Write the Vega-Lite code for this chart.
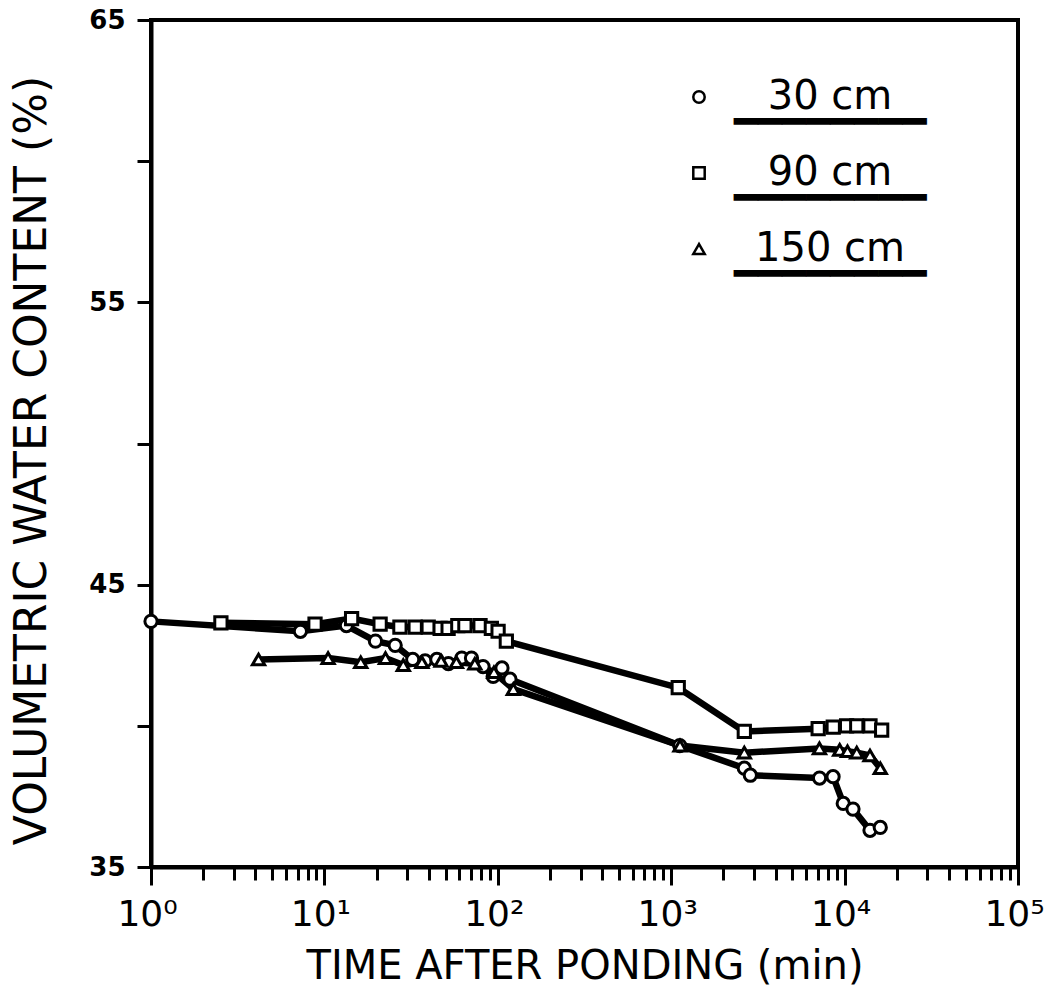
{
  "$schema": "https://vega.github.io/schema/vega-lite/v6.json",
  "autosize": "none",
  "width": 867,
  "height": 847,
  "padding": {"left": 151, "top": 20, "right": 27, "bottom": 136},
  "background": "white",
  "config": {
    "view": {"stroke": "black", "strokeWidth": 4},
    "font": "DejaVu Sans",
    "style": {"guide-label": {"lineHeight": 26}}
  },
  "data": {
    "values": [
      {"series": "30 cm", "t": 1, "v": 43.7},
      {"series": "30 cm", "t": 7.27, "v": 43.35},
      {"series": "30 cm", "t": 13.4, "v": 43.55},
      {"series": "30 cm", "t": 19.7, "v": 43.0},
      {"series": "30 cm", "t": 25.6, "v": 42.85},
      {"series": "30 cm", "t": 32.3, "v": 42.35},
      {"series": "30 cm", "t": 38.1, "v": 42.3},
      {"series": "30 cm", "t": 44.5, "v": 42.35},
      {"series": "30 cm", "t": 51.9, "v": 42.2},
      {"series": "30 cm", "t": 62, "v": 42.4},
      {"series": "30 cm", "t": 70.5, "v": 42.4},
      {"series": "30 cm", "t": 82.2, "v": 42.1},
      {"series": "30 cm", "t": 94, "v": 41.75},
      {"series": "30 cm", "t": 105.7, "v": 42.05},
      {"series": "30 cm", "t": 117.5, "v": 41.65},
      {"series": "30 cm", "t": 1120, "v": 39.3},
      {"series": "30 cm", "t": 2640, "v": 38.5},
      {"series": "30 cm", "t": 2860, "v": 38.25},
      {"series": "30 cm", "t": 7170, "v": 38.15},
      {"series": "30 cm", "t": 8580, "v": 38.2},
      {"series": "30 cm", "t": 9820, "v": 37.25},
      {"series": "30 cm", "t": 11180, "v": 37.05},
      {"series": "30 cm", "t": 14010, "v": 36.3},
      {"series": "30 cm", "t": 16060, "v": 36.4},
      {"series": "90 cm", "t": 2.53, "v": 43.65},
      {"series": "90 cm", "t": 8.83, "v": 43.6},
      {"series": "90 cm", "t": 14.35, "v": 43.8},
      {"series": "90 cm", "t": 20.96, "v": 43.6},
      {"series": "90 cm", "t": 27.26, "v": 43.5},
      {"series": "90 cm", "t": 33.4, "v": 43.5},
      {"series": "90 cm", "t": 39.7, "v": 43.5},
      {"series": "90 cm", "t": 46.5, "v": 43.45},
      {"series": "90 cm", "t": 51.7, "v": 43.45},
      {"series": "90 cm", "t": 58.8, "v": 43.55},
      {"series": "90 cm", "t": 64.6, "v": 43.55},
      {"series": "90 cm", "t": 79, "v": 43.55},
      {"series": "90 cm", "t": 91.8, "v": 43.45},
      {"series": "90 cm", "t": 100.4, "v": 43.35},
      {"series": "90 cm", "t": 112, "v": 43.0},
      {"series": "90 cm", "t": 1098, "v": 41.35},
      {"series": "90 cm", "t": 2640, "v": 39.8},
      {"series": "90 cm", "t": 7040, "v": 39.9},
      {"series": "90 cm", "t": 8600, "v": 39.95},
      {"series": "90 cm", "t": 10270, "v": 40.0},
      {"series": "90 cm", "t": 11750, "v": 40.0},
      {"series": "90 cm", "t": 14010, "v": 40.0},
      {"series": "90 cm", "t": 16360, "v": 39.85},
      {"series": "150 cm", "t": 4.17, "v": 42.35},
      {"series": "150 cm", "t": 10.5, "v": 42.4},
      {"series": "150 cm", "t": 16.2, "v": 42.25},
      {"series": "150 cm", "t": 22.5, "v": 42.4},
      {"series": "150 cm", "t": 28.5, "v": 42.15},
      {"series": "150 cm", "t": 36.5, "v": 42.25},
      {"series": "150 cm", "t": 47.1, "v": 42.3},
      {"series": "150 cm", "t": 57.7, "v": 42.25},
      {"series": "150 cm", "t": 73.7, "v": 42.2},
      {"series": "150 cm", "t": 95, "v": 41.9},
      {"series": "150 cm", "t": 122.9, "v": 41.3},
      {"series": "150 cm", "t": 1124, "v": 39.3},
      {"series": "150 cm", "t": 2640, "v": 39.05},
      {"series": "150 cm", "t": 7160, "v": 39.2},
      {"series": "150 cm", "t": 9370, "v": 39.15},
      {"series": "150 cm", "t": 10390, "v": 39.1},
      {"series": "150 cm", "t": 11750, "v": 39.05},
      {"series": "150 cm", "t": 14010, "v": 38.95},
      {"series": "150 cm", "t": 16060, "v": 38.5}
    ]
  },
  "encoding": {
    "x": {
      "field": "t", "type": "quantitative",
      "scale": {"type": "log", "domain": [1, 100000], "nice": false},
      "axis": {
        "title": "TIME AFTER PONDING (min)",
        "titleFontSize": 40, "titleFontWeight": "normal", "titleColor": "black", "titlePadding": 14,
        "values": [1,2,3,4,5,6,7,8,9,10,20,30,40,50,60,70,80,90,100,200,300,400,500,600,700,800,900,1000,2000,3000,4000,5000,6000,7000,8000,9000,10000,20000,30000,40000,50000,60000,70000,80000,90000,100000],
        "labelExpr": "abs(log(datum.value)/LN10 - round(log(datum.value)/LN10)) < 0.000001 ? '10' + ['⁰','¹','²','³','⁴','⁵'][round(log(datum.value)/LN10)] : ''",
        "labelFontSize": 36, "labelColor": "black", "labelPadding": 12, "labelOffset": -4,
        "labelOverlap": false, "labelFlush": false, "labelBound": false,
        "grid": false, "domainColor": "black", "domainWidth": 4,
        "tickColor": "black", "tickWidth": 3,
        "tickSize": {"condition": {"test": "abs(log(datum.value)/LN10 - round(log(datum.value)/LN10)) < 0.000001", "value": 18}, "value": 13}
      }
    },
    "y": {
      "field": "v", "type": "quantitative",
      "scale": {"domain": [35, 65], "nice": false, "zero": false},
      "axis": {
        "title": "VOLUMETRIC WATER CONTENT (%)",
        "titleFontSize": 44, "titleFontWeight": "normal", "titleColor": "black", "titlePadding": 34,
        "titleY": 440,
        "values": [35, 40, 45, 50, 55, 60, 65],
        "labelExpr": "datum.value % 10 == 5 ? datum.label : ''",
        "labelFontSize": 26, "labelFontWeight": "bold", "labelColor": "black", "labelPadding": 12,
        "labelOverlap": false, "labelFlush": false,
        "grid": false, "domainColor": "black", "domainWidth": 4,
        "tickColor": "black", "tickWidth": 3, "tickSize": 14
      }
    }
  },
  "layer": [
    {
      "mark": {"type": "line", "color": "black", "strokeWidth": 6.5},
      "encoding": {"detail": {"field": "series"}, "order": {"field": "t", "type": "quantitative"}}
    },
    {
      "mark": {"type": "point", "color": "black", "filled": false, "fill": "white", "strokeWidth": 3, "size": 150, "opacity": 1},
      "encoding": {
        "shape": {
          "field": "series", "type": "nominal",
          "scale": {"domain": ["30 cm", "90 cm", "150 cm"], "range": ["circle", "square", "triangle-up"]},
          "legend": {
            "title": null, "orient": "none", "legendX": 528, "legendY": 57,
            "labelExpr": "[datum.label, '━━━━━━━━']",
            "labelFontSize": 40, "labelColor": "black", "labelOffset": 111, "labelBaseline": "middle", "labelAlign": "center",
            "symbolSize": 130, "symbolStrokeWidth": 2.5,
            "rowPadding": 10, "labelLimit": 400,
            "encode": {
              "labels": {
                "dy": {"value": 13}
              }
            }
          }
        }
      }
    }
  ]
}
